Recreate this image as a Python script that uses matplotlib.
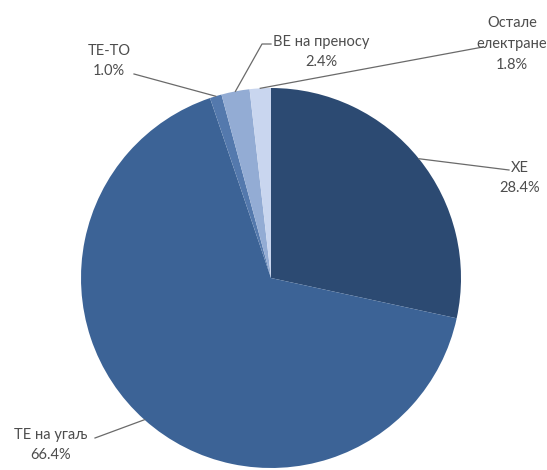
import numpy as np
import matplotlib.pyplot as plt

plt.rcParams['font.family'] = ['Lato', 'DejaVu Sans']

# data (clockwise from 12 o'clock)
labels = ['ХЕ', 'ТЕ на угаљ', 'ТЕ-ТО', 'ВЕ на преносу', 'Остале\nелектране']
shares = [28.4, 66.4, 1.0, 2.4, 1.8]
colors = ['#2c4a72', '#3c6396', '#5479ad', '#93acd4', '#c9d6ef']

W, H = 547, 470
fig = plt.figure(figsize=(W / 100, H / 100), dpi=100)
ax = fig.add_axes([0, 0, 1, 1])

cx, cy, R = 271, H - 278, 190
wedges, _ = ax.pie(shares, colors=colors, startangle=90, counterclock=False,
                   radius=R, center=(cx, cy), frame=True,
                   wedgeprops=dict(linewidth=0))
ax.set_xlim(0, W)
ax.set_ylim(0, H)
ax.set_aspect('equal')
ax.axis('off')

# label block centres and leader line ends (pixel coords, y from top)
text_pos = [(520, 178), (51, 445), (109, 61), (321, 52), (512, 44)]
line_end = [(509, 170), (95, 438), (134, 74), (262, 44), (483, 47)]
line_knee = [None, None, None, (271, 44), None]

for w, lab, val, tp, le, kn in zip(wedges, labels, shares, text_pos, line_end, line_knee):
    mid = np.deg2rad((w.theta1 + w.theta2) / 2)
    xs = [cx + R * np.cos(mid), le[0]]
    ys = [cy + R * np.sin(mid), H - le[1]]
    if kn is not None:
        xs.append(kn[0])
        ys.append(H - kn[1])
    ax.plot(xs, ys, color='#6a6a6a', lw=0.9)
    ax.text(tp[0], H - tp[1], f'{lab}\n{val:.1f}%', ha='center', va='center',
            fontsize=10.5, color='#4d4d4d', linespacing=1.6)

fig.savefig('out.png', dpi=100)
